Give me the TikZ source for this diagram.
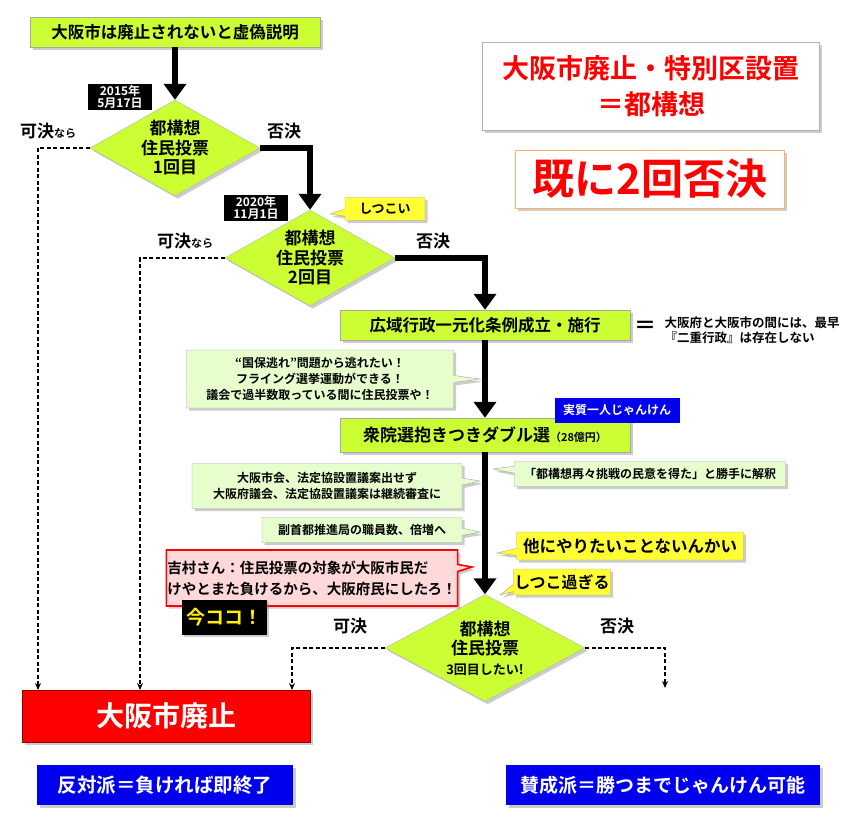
\documentclass[tikz,border=0pt]{standalone}
\usepackage{fontspec}
\setmainfont{Noto Sans CJK JP}[BoldFont={* Bold}]
\usetikzlibrary{shapes.geometric,shapes.callouts,shadows,arrows.meta}
\definecolor{lg}{HTML}{CCFF33}
\definecolor{pg}{HTML}{E6FFCC}
\definecolor{yl}{HTML}{FFFF33}
\definecolor{bl}{HTML}{0000EE}
\newcommand\fs[2]{\fontsize{#1}{#2}\selectfont}
\begin{document}
\begin{tikzpicture}[x=1pt,y=-1pt,font=\bfseries,
 gbox/.style={draw=gray!70,fill=lg,drop shadow={opacity=.4},inner sep=0pt},
 dia/.style={diamond,draw=gray!60,fill=lg,drop shadow={opacity=.4},aspect=1.75,inner sep=0pt,align=center,font=\bfseries\fs{17}{19.5}},
 thick arr/.style={line width=6pt,-{Triangle[length=16pt,width=22pt]}},
 thk/.style={line width=6pt},
 dash arr/.style={dash pattern=on 4pt off 2.5pt,line width=1.3pt,-{Stealth[length=7pt,width=6pt]}},
 call/.style={rectangle callout,draw=gray!70,fill=pg,drop shadow={opacity=.4},align=center,inner sep=1pt,font=\bfseries\fs{12}{16}},
 ycall/.style={rectangle callout,draw=gray!70,fill=yl,drop shadow={opacity=.4},align=left,inner sep=1pt},
 date/.style={fill=black,text=white,align=center,font=\bfseries\fs{12}{12.5},inner sep=1pt,minimum width=64},
 lbl/.style={font=\bfseries\fs{17}{17}}]
\useasboundingbox (0,0) rectangle (859,826);
\fill[white] (0,0) rectangle (859,826);
% top box
\node[gbox,minimum width=290,minimum height=30,font=\bfseries\fs{16.5}{17}] (top) at (175,32) {大阪市は廃止されないと虚偽説明};
% diamonds
\node[dia,minimum width=170,minimum height=96] (d1) at (175,148) {都構想\\住民投票\\1回目};
\node[dia,minimum width=170,minimum height=96] (d2) at (310,258) {都構想\\住民投票\\2回目};
\node[dia,minimum width=200,minimum height=107] (d3) at (485,648) {都構想\\住民投票\\{\fs{13}{14}3回目したい!}};
\node[date] (dt1) at (120,97) {2015年\\5月17日};
\node[date] (dt2) at (256,208) {2020年\\11月1日};
% boxes
\node[gbox,minimum width=290,minimum height=30,font=\bfseries\fs{16.5}{17}] (b3) at (485,325) {広域行政一元化条例成立・施行};
\node[gbox,minimum width=290,minimum height=34] (b4) at (485,435) {{\fs{17}{17}衆院選抱きつきダブル選}{\fs{11}{11}（28億円）}};
\node[font=\bfseries\fs{22}{22}] (eq) at (645,327) {＝};
\node[align=left,font=\bfseries\fs{12.5}{15}] (ex) at (752,330) {大阪府と大阪市の間には、最早\\『二重行政』は存在しない};
\node[fill=bl,text=white,minimum width=125,minimum height=25,inner sep=0pt,font=\bfseries\fs{12}{12}] (jk) at (617,410) {実質一人じゃんけん};
% main arrows
\draw[thick arr] (top.south) -- (d1.north);
\draw[thk] (d1.east) -- (310,148);
\draw[thick arr] (310,145) -- (d2.north);
\draw[thk] (d2.east) -- (485,258);
\draw[thick arr] (485,255) -- (b3.north);
\draw[thick arr] (b3.south) -- (b4.north);
\draw[thick arr] (b4.south) -- (d3.north);
% labels
\node[lbl] (k1) at (48,131) {可決{\fs{11}{11}なら}};
\node[lbl] (h1) at (284,131) {否決};
\node[lbl] (k2) at (185,241) {可決{\fs{11}{11}なら}};
\node[lbl] (h2) at (433,241) {否決};
\node[lbl] (k3) at (350,626) {可決};
\node[lbl] (h3) at (617,626) {否決};
% result boxes
\node[fill=red,draw=red!60!black,text=white,minimum width=288,minimum height=52,drop shadow={opacity=.4},font=\bfseries\fs{28}{28}] (end) at (166,716) {大阪市廃止};
\coordinate (e1) at (38,690); \coordinate (e2) at (140,690); \coordinate (e3) at (292,690); \coordinate (e4) at (665,688);
\draw[dash arr] (d1.west) -| (e1);
\draw[dash arr] (d2.west) -| (e2);
\draw[dash arr] (d3.west) -| (e3);
\draw[dash arr] (d3.east) -| (e4);
\node[fill=bl,text=white,minimum width=256,minimum height=40,inner sep=0pt,drop shadow={opacity=.4},font=\bfseries\fs{19.5}{20}] (f1) at (165,785) {反対派＝負ければ即終了};
\node[fill=bl,text=white,minimum width=314,minimum height=40,inner sep=0pt,drop shadow={opacity=.4},font=\bfseries\fs{19}{20}] (f2) at (663,785) {賛成派＝勝つまでじゃんけん可能};
% top right
\node[draw=gray!60,fill=white,drop shadow={opacity=.4},minimum width=337,minimum height=88,text=red,align=center,font=\bfseries\fs{27}{36}] (t1) at (651,86) {大阪市廃止・特別区設置\\＝都構想};
\node[draw=orange!60,fill=white,drop shadow={opacity=.4},minimum width=269,minimum height=58,text=red,font=\bfseries\fs{42}{42}] (t2) at (650,179) {既に2回否決};
% callouts
\node[ycall,minimum width=80,minimum height=23,font=\bfseries\fs{13}{13},callout absolute pointer={(330,214)}] (c0) at (385,209) {しつこい};
\node[call,minimum width=267,minimum height=58,callout absolute pointer={(480,379)}] (c1) at (320,379) {“国保逃れ”問題から逃れたい！\\フライング選挙運動ができる！\\議会で過半数取っている間に住民投票や！};
\node[call,minimum width=270,minimum height=45,callout absolute pointer={(480,481)}] (c2) at (327,486) {大阪市会、法定協設置議案出せず\\大阪府議会、法定協設置議案は継続審査に};
\node[call,minimum width=271,minimum height=25,callout absolute pointer={(493,469)}] (c2r) at (650,474) {「都構想再々挑戦の民意を得た」と勝手に解釈};
\node[call,minimum width=200,minimum height=25,callout absolute pointer={(480,532)}] (c3) at (362,530) {副首都推進局の職員数、倍増へ};
\node[ycall,minimum width=227,minimum height=28,font=\bfseries\fs{16.5}{17},callout absolute pointer={(497,553)}] (c4) at (630,546) {他にやりたいことないんかい};
\node[ycall,minimum width=88,minimum height=26,font=\bfseries\fs{16}{16},callout absolute pointer={(500,595)}] (c5) at (562,582) {しつこ過ぎる};
\node[rectangle callout,draw=red,line width=1.6pt,fill=pink!60,minimum width=285,minimum height=56,align=left,inner sep=1pt,drop shadow={opacity=.4},font=\bfseries\fs{14.5}{21},callout absolute pointer={(472,567)}] (c6) at (312,578) {吉村さん：住民投票の対象が大阪市民だ\\けやとまた負けるから、大阪府民にしたろ！};
\node[fill=black,text=yellow,minimum width=85,minimum height=35,drop shadow={opacity=.4},font=\bfseries\fs{19}{19}] (now) at (224,617) {今ココ！};
\end{tikzpicture}
\end{document}
